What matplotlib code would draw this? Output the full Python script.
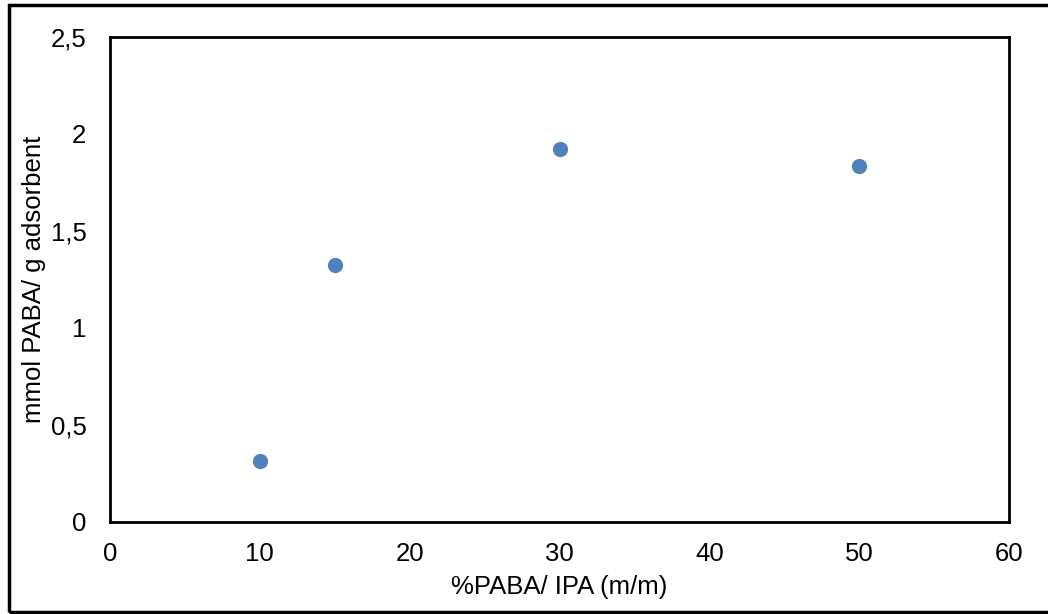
import matplotlib
matplotlib.use("Agg")
import matplotlib.pyplot as plt
from matplotlib.patches import Rectangle

plt.rcParams['font.family'] = ['Liberation Sans', 'DejaVu Sans']

x_vals = [10, 15, 30, 50]
y_vals = [0.31, 1.32, 1.92, 1.83]
x_ticks = [0, 10, 20, 30, 40, 50, 60]
y_ticks = [0, 0.5, 1, 1.5, 2, 2.5]
y_tick_labels = ['0', '0,5', '1', '1,5', '2', '2,5']

W, H = 1048, 614
fig = plt.figure(figsize=(W/100, H/100), dpi=100)
ax = fig.add_axes([110/W, 1 - 521.5/H, (1009-110)/W, (521.5-36.5)/H])

ax.scatter(x_vals, y_vals, s=120, color='#4F81BD', zorder=3, linewidths=0)
ax.set_xlim(0, 60)
ax.set_ylim(0, 2.5)
ax.set_xticks(x_ticks)
ax.set_xticklabels([str(v) for v in x_ticks])
ax.set_yticks(y_ticks)
ax.set_yticklabels(y_tick_labels)
ax.tick_params(length=0, labelsize=18.5)
ax.tick_params(axis='x', pad=15)
ax.tick_params(axis='y', pad=17)
for s in ax.spines.values():
    s.set_linewidth(2)
    s.set_color('black')
ax.set_xlabel('%PABA/ IPA (m/m)', fontsize=18.5, labelpad=6)
ax.set_ylabel('mmol PABA/ g adsorbent', fontsize=18.5, labelpad=3)

fig.patches.append(Rectangle((9/W, 1 - 612/H), (W + 10)/W, (612-5)/H,
                             transform=fig.transFigure, fill=False,
                             edgecolor='black', linewidth=2.5, clip_on=False))
fig.savefig('out.png', dpi=100)
